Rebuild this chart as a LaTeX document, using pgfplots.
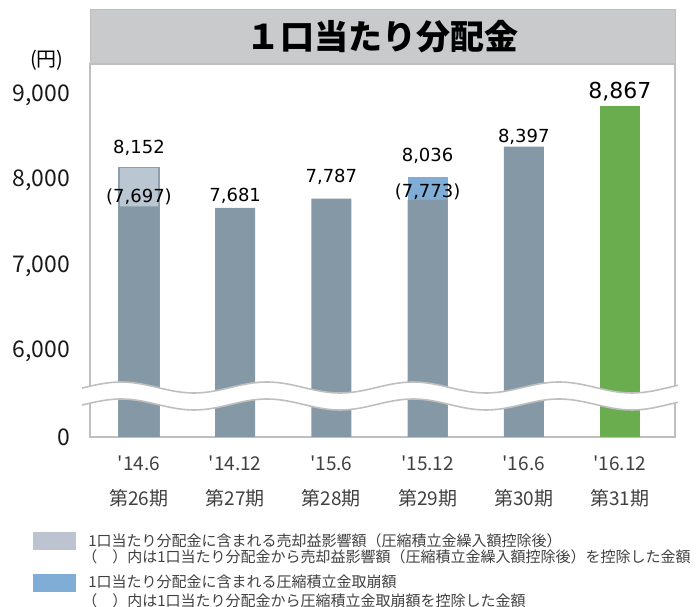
\documentclass[border=0pt]{standalone}
\usepackage{fontspec}
\usepackage{pgfplots}
\pgfplotsset{compat=1.18}
\setmainfont{Noto Sans CJK JP}
\newfontfamily\jp{Noto Sans CJK JP}
\newfontfamily\dv{DejaVu Sans}

\definecolor{frameGray}{HTML}{BFBFBF}
\definecolor{barGray}{HTML}{8499A5}
\definecolor{lightTop}{HTML}{BAC7D2}
\definecolor{lightEdge}{HTML}{8C9FAC}
\definecolor{blueTop}{HTML}{7FADD6}
\definecolor{greenBar}{HTML}{6AAD4F}
\definecolor{titleGray}{HTML}{C8CACC}
\definecolor{legLight}{HTML}{BEC3D1}
\definecolor{textGray}{HTML}{404040}

\begin{document}
\begin{tikzpicture}[x=1pt,y=1pt]
\useasboundingbox (0,0) rectangle (697,607);
\begin{axis}[
  at={(90pt,170pt)}, anchor=south west,
  scale only axis, width=585pt, height=373pt,
  xmin=-0.509, xmax=5.572, ymin=0, ymax=4363,
  % values above the break are shown shifted down by 5000
  y filter/.expression={y-5000},
  ybar, bar width=40pt,
  axis line style={draw=frameGray, line width=1.5pt},
  major tick length=0pt,
  xtick={0,1,2,3,4,5},
  xticklabels={{'14.6\\[12pt]第26期},{'14.12\\[12pt]第27期},{'15.6\\[12pt]第28期},
               {'15.12\\[12pt]第29期},{'16.6\\[12pt]第30期},{'16.12\\[12pt]第31期}},
  xticklabel style={align=center, anchor=north, inner sep=0pt, yshift=-19pt,
                    font=\jp\fontsize{19}{23}\selectfont, text=textGray},
  ytick={0,1000,2000,3000,4000},
  yticklabels={0,{6,000},{7,000},{8,000},{9,000}},
  yticklabel style={anchor=east, inner sep=0pt, xshift=-20pt,
                    font=\jp\fontsize{23}{27}\selectfont, text=black!90},
  legend style={at={(-0.0974,-0.2547)}, anchor=north west, draw=none, fill=none,
                inner sep=0pt, outer sep=0pt, row sep=0pt,
                nodes={inner sep=0pt, outer sep=0pt, text=textGray,
                       font=\jp\fontsize{15}{18}\selectfont}},
  legend cell align=left,
  legend style={cells={anchor=base west}},
  /tikz/every odd column/.append style={column sep=13pt},
]
\addlegendimage{legend image code/.code={\fill[legLight] (0pt,-2.3pt) rectangle (42pt,14.7pt);}}
\addlegendentry{\rule[-4pt]{0pt}{17pt}1口当たり分配金に含まれる売却益影響額（圧縮積立金繰入額控除後）}
\addlegendimage{empty legend}
\addlegendentry{\rule[-4pt]{0pt}{17pt}\hspace*{-6pt}（　）内は1口当たり分配金から売却益影響額（圧縮積立金繰入額控除後）を控除した金額}
\addlegendimage{legend image code/.code={\fill[blueTop] (0pt,-3.3pt) rectangle (42pt,13.7pt);}}
\addlegendentry{\rule[-4pt]{0pt}{28pt}1口当たり分配金に含まれる圧縮積立金取崩額}
\addlegendimage{empty legend}
\addlegendentry{\rule[-4pt]{0pt}{19pt}\hspace*{-6pt}（　）内は1口当たり分配金から圧縮積立金取崩額を控除した金額}

% totals of the two split bars
\addplot[forget plot, bar shift=0pt, fill=lightTop, draw=lightEdge, line width=1.5pt]
  coordinates {(0,8152)};
\addplot[forget plot, bar shift=0pt, fill=blueTop, draw=none]
  coordinates {(3,8036)};
% amounts after deduction / regular bars
\addplot[forget plot, bar shift=0pt, fill=barGray, draw=none]
  coordinates {(0,7697) (1,7681) (2,7787) (3,7773) (4,8397)};
\addplot[forget plot, bar shift=0pt, fill=greenBar, draw=none]
  coordinates {(5,8867)};

\begin{scope}[font=\dv\fontsize{18}{21}\selectfont]
\node at (axis cs:0,3380) {8,152};
\node at (axis cs:0,2807) {(7,697)};
\node at (axis cs:1,2819) {7,681};
\node at (axis cs:2,3041) {7,787};
\node at (axis cs:3,3287) {8,036};
\node at (axis cs:3,2865) {(7,773)};
\node at (axis cs:4,3509) {8,397};
\node[font=\dv\fontsize{22}{26}\selectfont] at (axis cs:5,4035) {8,867};
\end{scope}
\end{axis}

% axis break
\fill[white] plot[domain=82:678, samples=120] (\x, {219.5+5.5*cos(((\x-267)/146)*360)})
  -- plot[domain=678:82, samples=120] (\x, {202.5+5.5*cos(((\x-267)/146)*360)}) -- cycle;
\draw[frameGray, line width=1.6pt] plot[domain=82:678, samples=120] (\x, {219.5+5.5*cos(((\x-267)/146)*360)});
\draw[frameGray, line width=1.6pt] plot[domain=82:678, samples=120] (\x, {202.5+5.5*cos(((\x-267)/146)*360)});

% title box
\fill[titleGray] (90,543) rectangle (675,597);
\draw[frameGray, line width=1pt] (90,543) rectangle (675,597);
\node[font=\jp\fontsize{34}{40}\selectfont\bfseries] at (382.5,570) {１口当たり分配金};
\node[font=\jp\fontsize{20}{24}\selectfont] at (47,547) {(円)};
\end{tikzpicture}
\end{document}
